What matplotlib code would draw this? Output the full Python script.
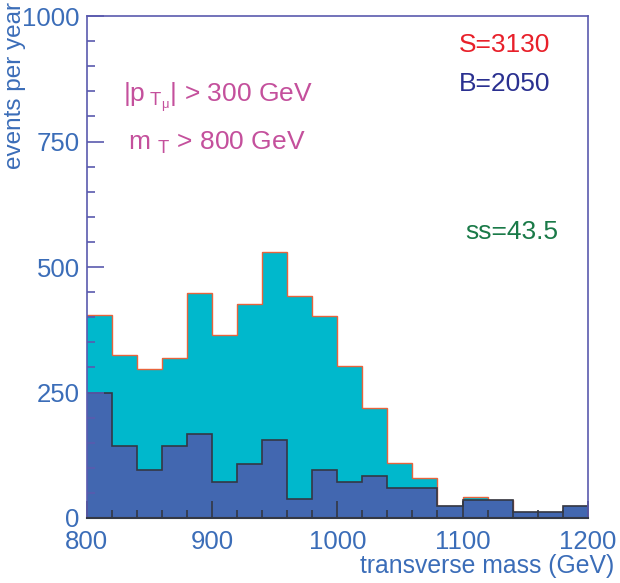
import numpy as np
import matplotlib
matplotlib.use("Agg")
import matplotlib.pyplot as plt
from matplotlib.ticker import MultipleLocator

plt.rcParams['font.family'] = ['Liberation Sans', 'DejaVu Sans']
plt.rcParams['mathtext.fontset'] = 'custom'
plt.rcParams['mathtext.rm'] = 'Liberation Sans'
plt.rcParams['mathtext.it'] = 'Liberation Sans'
plt.rcParams['mathtext.default'] = 'regular'

# transverse mass bins (GeV)
bin_edges = [800, 820, 840, 860, 880, 900, 920, 940, 960, 980, 1000,
             1020, 1040, 1060, 1080, 1100, 1120, 1140, 1160, 1180, 1200]
# signal + background, events per year
total = [405, 324, 296, 318, 448, 365, 426, 530, 443, 402,
         303, 220, 110, 79, 23, 42, 36, 11, 11, 23]
# background only
background = [250, 143, 96, 143, 167, 72, 107, 155, 37, 96,
              72, 83, 60, 60, 23, 36, 36, 11, 11, 23]

label_blue = "#3b6db8"
frame_col = "#5a5aae"

fig = plt.figure(figsize=(6.2, 5.83), dpi=100)
ax = fig.add_axes([0.140, 0.1115, 0.808, 0.861])

ax.stairs(total, bin_edges, fill=True, color="#00b8cc", baseline=0)
ax.stairs(total, bin_edges, color="#e8643c", lw=1.0, baseline=None)
ax.stairs(background, bin_edges, fill=True, color="#4267b0", baseline=0)
ax.stairs(background, bin_edges, color="#333844", lw=1.2, baseline=None)

ax.set_xlim(800, 1200)
ax.set_ylim(0, 1000)
ax.xaxis.set_major_locator(MultipleLocator(100))
ax.xaxis.set_minor_locator(MultipleLocator(20))
ax.yaxis.set_major_locator(MultipleLocator(250))
ax.yaxis.set_minor_locator(MultipleLocator(50))

ax.tick_params(which='both', direction='in', colors=frame_col, labelcolor=label_blue,
               labelsize=18.5, width=1.2)
ax.tick_params(which='major', length=12)
ax.tick_params(which='minor', length=6)
ax.tick_params(axis='x', which='both', colors="#333844", labelcolor=label_blue, pad=9)
ax.tick_params(axis='y', pad=5)

for side in ['left', 'top', 'right']:
    ax.spines[side].set_color(frame_col)
    ax.spines[side].set_linewidth(1.2)
ax.spines['bottom'].set_color("#333844")
ax.spines['bottom'].set_linewidth(1.5)

fig.text(614 / 620, 1 - 566 / 583, "transverse mass (GeV)", ha='right', va='center',
         fontsize=17.8, color=label_blue)
fig.text(15 / 620, 1 - 2 / 583, "events per year", ha='center', va='top',
         rotation=90, fontsize=17.5, color=label_blue)

ax.annotate("S=3130", xy=(505 / 620, 1 - 45 / 583), xycoords='figure fraction',
            ha='center', va='center', fontsize=19, color="#e8202a")
ax.annotate("B=2050", xy=(505 / 620, 1 - 84 / 583), xycoords='figure fraction',
            ha='center', va='center', fontsize=19, color="#2a3090")
ax.annotate("ss=43.5", xy=(512 / 620, 1 - 232 / 583), xycoords='figure fraction',
            ha='center', va='center', fontsize=19, color="#1a7a48")
ax.annotate(r"|p$_{\ T_{\mu}}$| > 300 GeV", xy=(218 / 620, 1 - 97 / 583),
            xycoords='figure fraction', ha='center', va='center',
            fontsize=19, color="#c4509c")
ax.annotate(r"m $_{T}$ > 800 GeV", xy=(217 / 620, 1 - 143 / 583),
            xycoords='figure fraction', ha='center', va='center',
            fontsize=19, color="#c4509c")

fig.savefig("out.png", dpi=100)
